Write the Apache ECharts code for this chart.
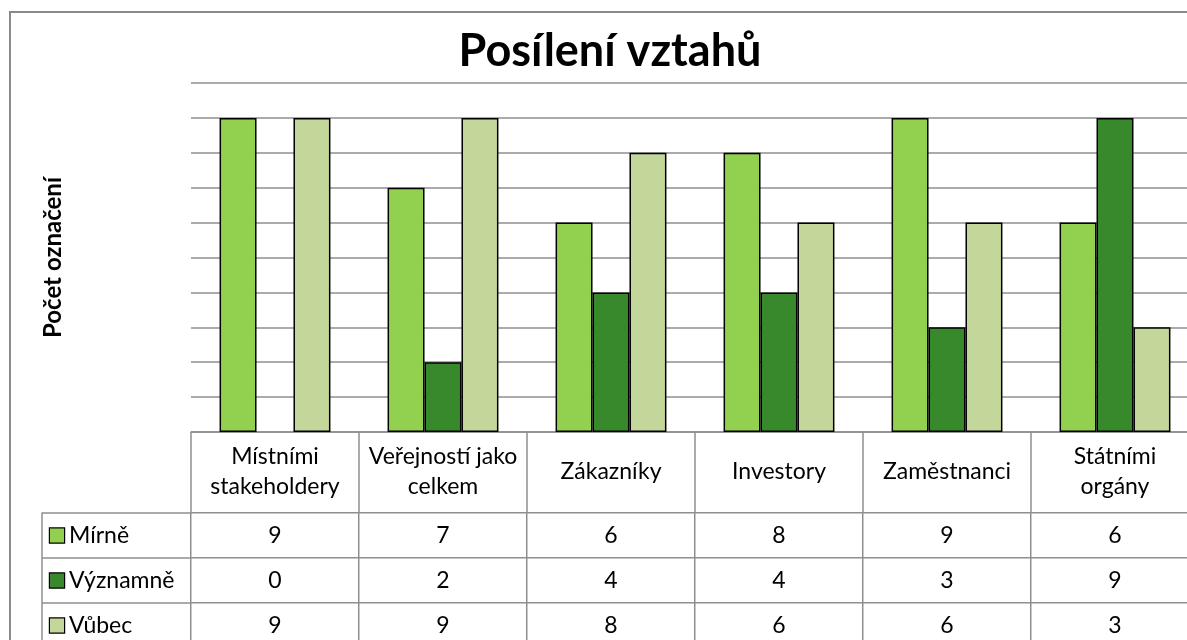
<!DOCTYPE html>
<html>
<head>
<meta charset="utf-8">
<script src="https://cdn.jsdelivr.net/npm/echarts@6/dist/echarts.min.js"></script>
<style>
  html, body { margin: 0; padding: 0; background: #fff; }
  #canvas_main { width: 1187px; height: 640px; }
</style>
</head>
<body>
<div id="canvas_main"></div>
<script>
var categories = ['Místními\nstakeholdery', 'Veřejností jako\ncelkem', 'Zákazníky', 'Investory', 'Zaměstnanci', 'Státními\norgány'];
var seriesNames = ['Mírně', 'Významně', 'Vůbec'];
var mirne = [9, 7, 6, 8, 9, 6];
var vyznamne = [0, 2, 4, 4, 3, 9];
var vubec = [9, 9, 8, 6, 6, 3];
var colors = ['#92D050', '#37892B', '#C4D79B'];

var FONT = 'Lato, "Open Sans", sans-serif';
var LINE = '#8f8f8f';

var myChart = echarts.init(document.getElementById('canvas_main'));

var values = [mirne, vyznamne, vubec];
var cells = [];
for (var r = 0; r < values.length; r++) {
	for (var c = 0; c < categories.length; c++) {
		cells.push([c, r, values[r][c]]);
	}
}

var rich = { t: { fontSize: 23, fontFamily: FONT, color: '#000', padding: [0, 0, 0, 5] } };
seriesNames.forEach(function (n, i) {
	rich['b' + i] = {
		width: 14, height: 14,
		backgroundColor: colors[i],
		borderColor: '#000', borderWidth: 1.2
	};
});

var bars = seriesNames.map(function (n, i) {
	return {
		name: n,
		type: 'bar',
		xAxisIndex: 0,
		yAxisIndex: 0,
		// zero values show no outline
		data: values[i].map(function (v) {
			return v === 0 ? { value: v, itemStyle: { borderWidth: 0 } } : v;
		}),
		barGap: 0,
		barCategoryGap: '34%',
		itemStyle: { color: colors[i], borderColor: '#000', borderWidth: 1.5 }
	};
});

var option = {
	animation: false,
	title: {
		text: 'Posílení vztahů',
		left: 605,
		textAlign: 'center',
		top: 24,
		textStyle: { fontFamily: FONT, fontWeight: 'bold', fontSize: 45, color: '#000' }
	},
	graphic: [{
		type: 'rect',
		shape: { x: 10, y: 12, width: 1300, height: 800 },
		style: { fill: null, stroke: '#8a8a8a', lineWidth: 2 },
		silent: true
	}],
	grid: [
		{ left: 191, width: 1008, top: 83, height: 349, outerBoundsMode: 'none' },
		{ left: 191, width: 1008, top: 513, height: 135, outerBoundsMode: 'none' }
	],
	xAxis: [{
		type: 'category',
		gridIndex: 0,
		data: categories,
		axisLine: { lineStyle: { color: LINE, width: 1.5 } },
		axisTick: { show: true, length: 81, lineStyle: { color: LINE, width: 1.5 } },
		axisLabel: {
			interval: 0, margin: 40, verticalAlign: 'middle',
			fontFamily: FONT, fontSize: 23, lineHeight: 30, color: '#000'
		}
	}, {
		type: 'category',
		gridIndex: 1,
		data: categories,
		axisLine: { show: false },
		axisTick: { show: false },
		axisLabel: { show: false }
	}],
	yAxis: [{
		type: 'value',
		gridIndex: 0,
		min: 0, max: 10, interval: 1,
		name: 'Počet označení',
		nameLocation: 'middle',
		nameRotate: 90,
		nameGap: 126,
		nameTextStyle: { fontFamily: FONT, fontWeight: 'bold', fontSize: 24, color: '#000' },
		axisLine: { show: false },
		axisTick: { show: false },
		axisLabel: { show: false },
		splitLine: { lineStyle: { color: LINE, width: 1.5 } }
	}, {
		type: 'category',
		gridIndex: 1,
		inverse: true,
		data: seriesNames,
		axisLine: { show: true, lineStyle: { color: LINE, width: 1.5 } },
		axisTick: { show: true, length: 149, lineStyle: { color: LINE, width: 1.5 } },
		axisLabel: {
			align: 'left', margin: 141,
			formatter: function (v, i) { return '{b' + i + '|}{t|' + v + '}'; },
			rich: rich
		}
	}, {
		type: 'category',
		gridIndex: 1,
		position: 'left',
		offset: 149,
		data: seriesNames,
		axisLine: { show: true, lineStyle: { color: LINE, width: 1.5 } },
		axisTick: { show: false },
		axisLabel: { show: false }
	}],
	series: bars.concat([{
		type: 'heatmap',
		xAxisIndex: 1,
		yAxisIndex: 1,
		data: cells,
		itemStyle: { color: '#fff', borderColor: LINE, borderWidth: 1.5 },
		label: { show: true, fontFamily: FONT, fontSize: 23, color: '#000', formatter: function (p) { return p.value[2]; } },
		emphasis: { disabled: true }
	}])
};
myChart.setOption(option);
</script>
</body>
</html>
